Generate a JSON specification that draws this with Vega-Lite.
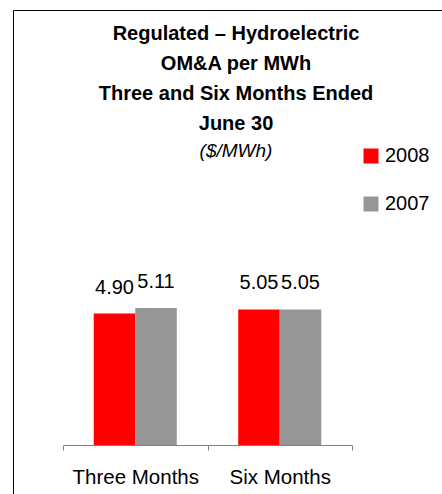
{
  "$schema": "https://vega.github.io/schema/vega-lite/v6.json",
  "width": 440,
  "height": 490,
  "autosize": "none",
  "padding": {"left": 13, "top": 10, "right": 0, "bottom": 0},
  "background": "white",
  "title": {
    "text": ["Regulated  –  Hydroelectric", "OM&A per MWh", "Three and Six Months Ended", "June 30"],
    "subtitle": "($/MWh)",
    "orient": "top",
    "anchor": "middle",
    "frame": "group",
    "offset": -151,
    "dx": 3,
    "font": "Liberation Sans",
    "fontSize": 20,
    "fontWeight": "bold",
    "color": "#000000",
    "lineHeight": 30,
    "subtitleFont": "Liberation Sans",
    "subtitleFontSize": 19,
    "subtitleFontStyle": "italic",
    "subtitleFontWeight": "normal",
    "subtitleColor": "#000000",
    "subtitlePadding": 8
  },
  "data": {
    "values": [
      {"period": "Three Months", "year": "2008", "value": 4.90},
      {"period": "Three Months", "year": "2007", "value": 5.11},
      {"period": "Six Months", "year": "2008", "value": 5.05},
      {"period": "Six Months", "year": "2007", "value": 5.05}
    ]
  },
  "encoding": {
    "x": {
      "field": "period",
      "type": "nominal",
      "sort": ["Three Months", "Six Months"],
      "scale": {"type": "band", "range": [50, 339], "paddingInner": 0, "paddingOuter": 0},
      "axis": {
        "title": null,
        "labelAngle": 0,
        "offset": -55,
        "domainColor": "#808080",
        "tickColor": "#808080",
        "tickSize": 5,
        "tickBand": "extent",
        "labelFont": "Liberation Sans",
        "labelFontSize": 20.5,
        "labelColor": "#000000",
        "labelPadding": 17,
        "grid": false
      }
    },
    "xOffset": {
      "field": "year",
      "type": "nominal",
      "sort": ["2008", "2007"],
      "scale": {"paddingInner": 0, "paddingOuter": 0.74}
    },
    "y": {
      "field": "value",
      "type": "quantitative",
      "scale": {"domain": [0, 6], "range": [435, 274], "nice": false, "zero": true},
      "axis": null
    }
  },
  "layer": [
    {
      "mark": {"type": "bar"},
      "encoding": {
        "color": {
          "field": "year",
          "type": "nominal",
          "sort": ["2008", "2007"],
          "scale": {"domain": ["2008", "2007"], "range": ["#FF0000", "#969696"]},
          "legend": {
            "orient": "none",
            "legendX": 348,
            "legendY": 136,
            "title": null,
            "symbolType": "square",
            "symbolSize": 225,
            "symbolStrokeWidth": 0,
            "symbolOpacity": 1,
            "labelFont": "Liberation Sans",
            "labelFontSize": 20,
            "labelColor": "#000000",
            "labelOffset": 4,
            "rowPadding": 28,
            "padding": 0
          }
        }
      }
    },
    {
      "mark": {
        "type": "text",
        "baseline": "alphabetic",
        "dy": -20,
        "font": "Liberation Sans",
        "fontSize": 20,
        "color": "#000000"
      },
      "encoding": {
        "text": {"field": "value", "type": "quantitative", "format": ".2f"}
      }
    }
  ],
  "config": {
    "view": {"stroke": "#000000", "strokeWidth": 1}
  }
}
